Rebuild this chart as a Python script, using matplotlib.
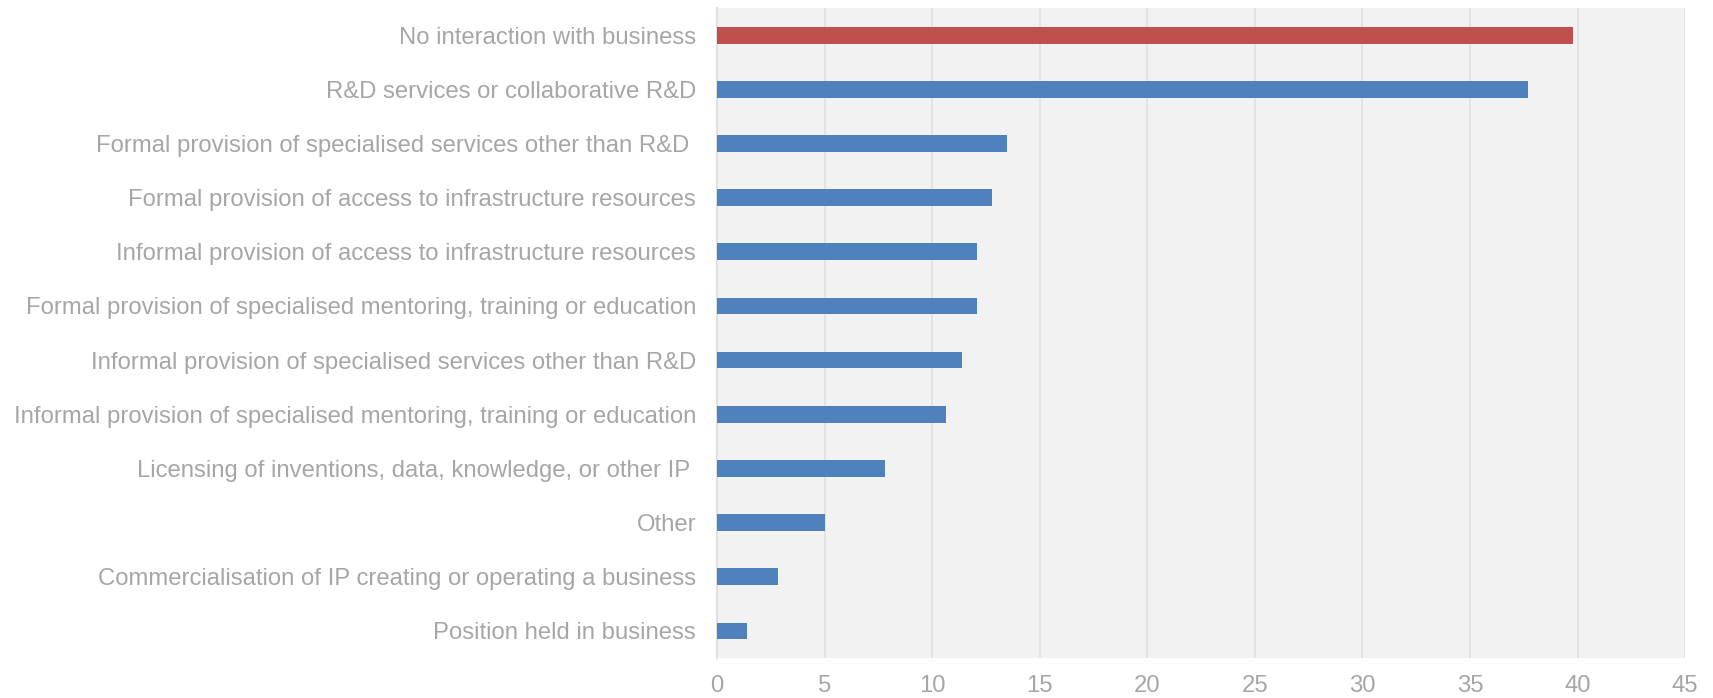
import matplotlib
matplotlib.use("Agg")
import matplotlib.pyplot as plt

categories = [
    "No interaction with business",
    "R&D services or collaborative R&D",
    "Formal provision of specialised services other than R&D ",
    "Formal provision of access to infrastructure resources",
    "Informal provision of access to infrastructure resources",
    "Formal provision of specialised mentoring, training or education",
    "Informal provision of specialised services other than R&D",
    "Informal provision of specialised mentoring, training or education",
    "Licensing of inventions, data, knowledge, or other IP ",
    "Other",
    "Commercialisation of IP creating or operating a business",
    "Position held in business",
]
values = [39.8, 37.7, 13.5, 12.8, 12.1, 12.1, 11.4, 10.65, 7.8, 5.0, 2.85, 1.4]
highlight = "No interaction with business"
xticks = [0, 5, 10, 15, 20, 25, 30, 35, 40, 45]

plt.rcParams['font.family'] = ['Liberation Sans', 'DejaVu Sans']
text_color = '#A6A6A6'

fig = plt.figure(figsize=(17.13, 6.98), dpi=100)
ax = fig.add_axes([0.4186, 0.0573, 0.5651, 0.9312])
ax.set_facecolor('#F2F2F2')

ypos = list(range(len(categories)))
colors = ['#C0504D' if c == highlight else '#4F81BD' for c in categories]
ax.barh(ypos, values, height=0.31, color=colors, zorder=3)

ax.set_yticks(ypos)
ax.set_yticklabels(categories, fontsize=17.2, color=text_color)
ax.set_ylim(len(categories) - 0.5, -0.5)
ax.set_xlim(0, 45)
ax.set_xticks(xticks)
ax.set_xticklabels([str(t) for t in xticks], fontsize=17.2, color=text_color)
ax.tick_params(axis='y', length=0, pad=15)
ax.tick_params(axis='x', length=0, pad=12)
ax.grid(axis='x', color='#E0E0E0', linewidth=1.2, zorder=0)
for s in ['top', 'right', 'bottom']:
    ax.spines[s].set_visible(False)
ax.spines['left'].set_color('#E0E0E0')
ax.spines['left'].set_linewidth(1.5)

fig.savefig('out.png', dpi=100)
